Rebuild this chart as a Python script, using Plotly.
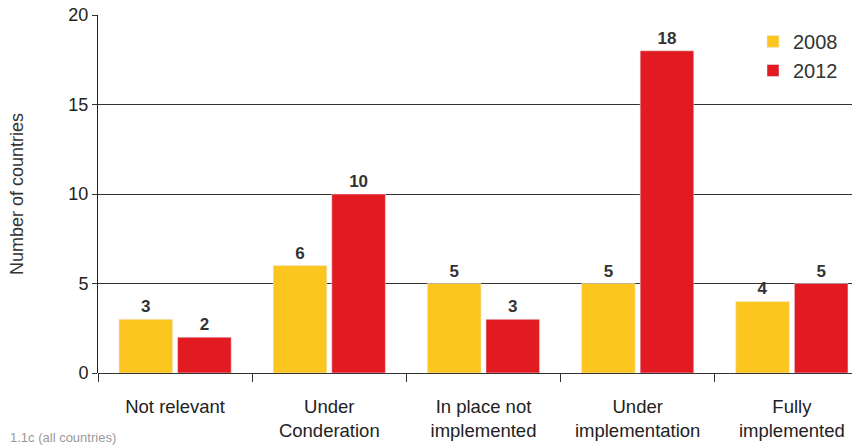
import plotly.graph_objects as go

categories = ["Not relevant", "Under<br>Conderation", "In place not<br>implemented", "Under<br>implementation", "Fully<br>implemented"]
values_2008 = [3, 6, 5, 5, 4]
values_2012 = [2, 10, 3, 18, 5]
y_ticks = [0, 5, 10, 15, 20]

YELLOW = "#FCC51F"
RED = "#E21B23"
FONT = "Liberation Sans, Arial, Helvetica, sans-serif"

W, H = 862, 448
ML, MR, MT, MB = 98, 10, 15, 75
PW, PH = W - ML - MR, H - MT - MB

fig = go.Figure()
for name, vals, col in [("2008", values_2008, YELLOW), ("2012", values_2012, RED)]:
    fig.add_trace(go.Bar(x=categories, y=vals, name=name, marker_color=col,
                         text=vals, textposition="outside", cliponaxis=False,
                         textfont=dict(family=FONT, size=17, color="#333333", weight="bold")))

fig.update_layout(
    width=W, height=H,
    margin=dict(l=ML, r=MR, t=MT, b=MB, autoexpand=False),
    plot_bgcolor="white", paper_bgcolor="white",
    barmode="group", bargap=0.24, bargroupgap=0.085,
    font=dict(family=FONT, size=18, color="#222222"),
    legend=dict(x=(753 - ML) / PW, y=(373 - 22) / PH, xanchor="left", yanchor="top",
                font=dict(size=20, color="#333333"), bgcolor="rgba(0,0,0,0)",
                tracegroupgap=0),
    annotations=[dict(text="1.1c (all countries)", x=(8 - ML) / PW, y=(373 - 437) / PH,
                      xref="paper", yref="paper", xanchor="left", yanchor="middle",
                      showarrow=False, font=dict(size=13, color="#999999"))],
)

fig.update_xaxes(
    range=[-0.5, 4.39], tickson="boundaries", ticks="outside", ticklen=8,
    tickcolor="#333333", showline=False, showgrid=False,
    tickfont=dict(size=18.5, color="#222222"), ticklabelstandoff=20,
)
fig.update_yaxes(
    range=[0, 20], tickvals=y_ticks, ticks="outside", ticklen=5, tickcolor="#333333",
    showline=True, linecolor="#222222", linewidth=1,
    showgrid=True, gridcolor="#333333", gridwidth=1,
    zeroline=True, zerolinecolor="#333333", zerolinewidth=1,
    tickfont=dict(size=18, color="#222222"),
    title=dict(text="Number of countries", font=dict(size=18, color="#333333"), standoff=40),
)

fig.write_html("out.html", config={"displayModeBar": False},
               post_script="document.body.style.margin='0';")
